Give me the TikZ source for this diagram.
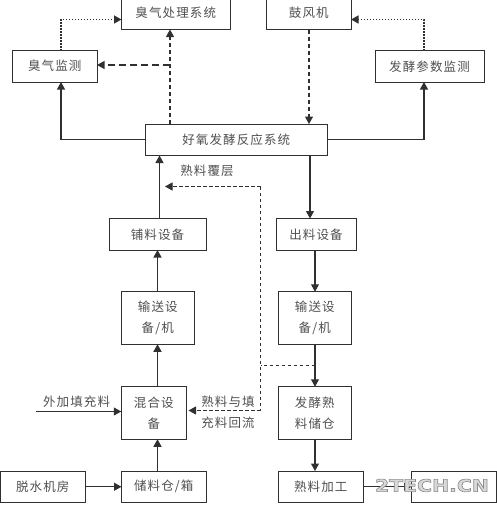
\documentclass[tikz,border=0pt]{standalone}
\usepackage{fontspec}
\usetikzlibrary{arrows.meta}
\setmainfont{Noto Sans CJK SC}[LetterSpace=9]
\newfontfamily\wmfont{DejaVu Sans Bold}
\definecolor{lc}{HTML}{303030}
\definecolor{tc}{HTML}{505050}
\tikzset{
  x=1pt,y=-1pt,
  bx/.style={draw=lc,line width=1pt,fill=white,inner sep=0pt,outer sep=0pt,text=tc,font=\fontsize{12.5}{21}\selectfont,align=center},
  lbl/.style={inner sep=0pt,text=tc,font=\fontsize{12.5}{21}\selectfont,align=center},
  con/.style={draw=lc,line width=1.1pt,-{Triangle[length=7.5pt,width=8pt]}},
  longdash/.style={con,dash pattern=on 7pt off 4pt,line width=1.2pt},
  shortdash/.style={con,dash pattern=on 4pt off 3pt,line width=1.2pt},
  thindash/.style={draw=lc,line width=0.9pt,dash pattern=on 3.5pt off 2.5pt},
  dots/.style={con,dash pattern=on 1.3pt off 1.7pt,line width=1.3pt},
}
\begin{document}
\begin{tikzpicture}
\useasboundingbox (0,0) rectangle (497,509);
% boxes: centre, size in pixels
\node[bx,minimum width=108.5pt,minimum height=34pt] (odor) at (175.75,12.5) {臭气处理系统};
\node[bx,minimum width=84.5pt,minimum height=34pt] (blower) at (308.75,12.5) {鼓风机};
\node[bx,minimum width=84.5pt,minimum height=31.5pt] (odormon) at (54.75,66.25) {臭气监测};
\node[bx,minimum width=109pt,minimum height=31.5pt] (fermon) at (429.5,66.25) {发酵参数监测};
\node[bx,minimum width=181.5pt,minimum height=31.5pt] (reactor) at (236.25,139.75) {好氧发酵反应系统};
\node[bx,minimum width=97pt,minimum height=31.5pt] (spread) at (157.5,234.25) {铺料设备};
\node[bx,minimum width=80pt,minimum height=31.5pt] (out) at (316,234.25) {出料设备};
\node[bx,minimum width=72.5pt,minimum height=52.5pt] (convl) at (157.75,318) {输送设\\备/机};
\node[bx,minimum width=73pt,minimum height=52.5pt] (convr) at (314.75,318) {输送设\\备/机};
\node[bx,minimum width=65pt,minimum height=52.5pt] (mix) at (153.75,413) {混合设\\备};
\node[bx,minimum width=72.5pt,minimum height=52.5pt] (store) at (314.75,413) {发酵熟\\料储仓};
\node[bx,minimum width=84.5pt,minimum height=31.5pt] (dewater) at (42.75,486.75) {脱水机房};
\node[bx,minimum width=84.5pt,minimum height=31.5pt] (silo) at (163.75,486.75) {储料仓/箱};
\node[bx,minimum width=84.5pt,minimum height=31.5pt] (proc) at (320.75,486.75) {熟料加工};
\node[bx,minimum width=85pt,minimum height=31.5pt] (prod) at (454,486.75) {};
% labels
\node[lbl] (lblcover) at (207,171) {熟料覆层};
\node[lbl] (lbladd) at (76.5,402) {外加填充料};
\node[lbl] (lblback1) at (228,402) {熟料与填};
\node[lbl] (lblback2) at (228,423) {充料回流};
% guide coordinates
\coordinate (xa) at (61,0);
\coordinate (xb) at (170,0);
\coordinate (xc) at (424,0);
\coordinate (xd) at (309,0);
\coordinate (xe) at (159.5,0);
\coordinate (xf) at (310,0);
\coordinate (xg) at (157.5,0);
\coordinate (xh) at (315,0);
\coordinate (xi) at (260.5,0);
\coordinate (addstart) at (36,411.5);
\coordinate (y1) at (0,19.5);
\coordinate (y2) at (0,65);
\coordinate (coverend) at (165,186.5);
\coordinate (backend) at (188.5,410.5);
\coordinate (ybr) at (0,365.5);
% dotted
\draw[dots] (xa |- odormon.north) -- (xa |- y1) -- (odor.west |- y1);
\draw[dots] (xc |- fermon.north) -- (xc |- y1) -- (blower.east |- y1);
% dashed
\draw[shortdash] (xb |- reactor.north) -- (xb |- odor.south);
\draw[longdash] (xb |- y2) -- (odormon.east |- y2);
\draw[shortdash] (xd |- blower.south) -- (xd |- reactor.north);
% solid
\draw[con] (reactor.west) -- (xa |- reactor.west) -- (xa |- odormon.south);
\draw[con] (reactor.east) -- (xc |- reactor.east) -- (xc |- fermon.south);
\draw[con] (xe |- spread.north) -- (xe |- reactor.south);
\draw[con] (xf |- reactor.south) -- (xf |- out.north);
\draw[con] (xg |- convl.north) -- (xg |- spread.south);
\draw[con] (xg |- mix.north) -- (xg |- convl.south);
\draw[con] (xg |- silo.north) -- (xg |- mix.south);
\draw[con] (dewater.east) -- (silo.west);
\draw[con] (addstart) -- (mix.west |- addstart);
\draw[con] (xh |- out.south) -- (xh |- convr.north);
\draw[con] (xh |- convr.south) -- (xh |- store.north);
\draw[con] (xh |- store.south) -- (xh |- proc.north);
\draw[con] (proc.east) -- (prod.west);
% return flow
\draw[thindash] (xh |- ybr) -- (xi |- ybr);
\draw[thindash] (xi |- coverend) -- (xi |- backend);
\draw[thindash,-{Triangle[length=7.5pt,width=8pt]}] (xi |- coverend) -- (coverend);
\draw[thindash,-{Triangle[length=7.5pt,width=8pt]}] (xi |- backend) -- (backend);
% watermark
\node[inner sep=0pt,xscale=1.2] (wm) at (432,485.5) {\special{pdf:code q 2 Tr 0.6 w 0.55 G 0.85 g}\wmfont\fontsize{17}{17}\selectfont 2TECH.CN\special{pdf:code Q}};
\end{tikzpicture}
\end{document}
